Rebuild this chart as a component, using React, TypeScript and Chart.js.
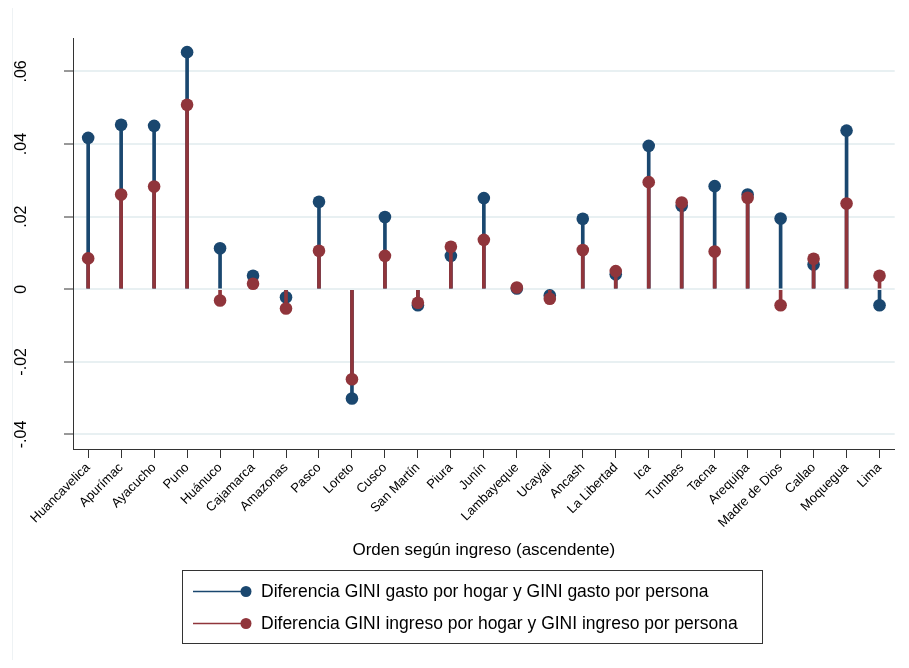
import React, { useEffect, useRef } from "react";
import { Chart, registerables } from "chart.js";

Chart.register(...registerables);

const categories = [
  "Huancavelica", "Apurímac", "Ayacucho", "Puno", "Huánuco", "Cajamarca", "Amazonas",
  "Pasco", "Loreto", "Cusco", "San Martín", "Piura", "Junín", "Lambayeque", "Ucayali",
  "Ancash", "La Libertad", "Ica", "Tumbes", "Tacna", "Arequipa", "Madre de Dios",
  "Callao", "Moquegua", "Lima",
];

const gastoDiff = [
  0.0417, 0.0453, 0.0450, 0.0653, 0.0113, 0.0037, -0.0022, 0.0241, -0.0301, 0.0199,
  -0.0044, 0.0092, 0.0251, 0.0002, -0.0017, 0.0194, 0.0041, 0.0395, 0.0230, 0.0284,
  0.0261, 0.0195, 0.0068, 0.0437, -0.0044,
];

const ingresoDiff = [
  0.0085, 0.0261, 0.0283, 0.0508, -0.0031, 0.0015, -0.0053, 0.0106, -0.0248, 0.0092,
  -0.0037, 0.0117, 0.0136, 0.0005, -0.0026, 0.0108, 0.0050, 0.0295, 0.0239, 0.0104,
  0.0252, -0.0044, 0.0084, 0.0236, 0.0037,
];

const yTickValues = [-0.04, -0.02, 0, 0.02, 0.04, 0.06];
const yTickLabels = ["-.04", "-.02", "0", ".02", ".04", ".06"];

const seriesNames = [
  "Diferencia GINI gasto por hogar y GINI gasto por persona",
  "Diferencia GINI ingreso por hogar y GINI ingreso por persona",
];
const xTitle = "Orden según ingreso (ascendente)";

const BLUE = "#1a476f";
const RED = "#90353b";
const GRID = "#e8f0f2";
const AXIS = "#333333";
const FONT = "'Liberation Sans', Arial, sans-serif";

export default function App() {
  const ref = useRef<HTMLCanvasElement | null>(null);

  useEffect(() => {
    if (!ref.current) return;
    const pts = (arr: number[]) => arr.map((v, i) => ({ x: i, y: v }));

    const overlay = {
      id: "overlay",
      afterDraw(chart: any) {
        const ctx = chart.ctx;
        const ys = chart.scales.y;
        ctx.save();
        ctx.strokeStyle = "#eef2f4";
        ctx.lineWidth = 1;
        ctx.beginPath();
        ctx.moveTo(4.5, 0);
        ctx.lineTo(4.5, chart.height);
        ctx.stroke();
        ctx.fillStyle = "#000";
        ctx.font = `16px ${FONT}`;
        ctx.textAlign = "center";
        ctx.textBaseline = "middle";
        yTickValues.forEach((v, i) => {
          const y = ys.getPixelForValue(v);
          ctx.save();
          ctx.translate(14, y);
          ctx.rotate(-Math.PI / 2);
          ctx.fillText(yTickLabels[i], 0, 0);
          ctx.restore();
        });
        const bx = 174.5, by = 562.5, bw = 580, bh = 73;
        ctx.strokeStyle = AXIS;
        ctx.lineWidth = 1;
        ctx.strokeRect(bx, by, bw, bh);
        const colors = [BLUE, RED];
        const rowsY = [583.5, 615.5];
        ctx.font = `17.5px ${FONT}`;
        ctx.textAlign = "left";
        colors.forEach((c, i) => {
          const yy = rowsY[i];
          ctx.strokeStyle = c;
          ctx.lineWidth = 1.5;
          ctx.beginPath();
          ctx.moveTo(185, yy);
          ctx.lineTo(238, yy);
          ctx.stroke();
          ctx.fillStyle = c;
          ctx.beginPath();
          ctx.arc(238, yy, 5.5, 0, Math.PI * 2);
          ctx.fill();
          ctx.fillStyle = "#000";
          ctx.fillText(seriesNames[i], 253, yy + 1);
        });
        ctx.restore();
      },
    };

    const chart = new Chart(ref.current, {
      type: "bar",
      data: {
        datasets: [
          {
            type: "bar",
            label: seriesNames[0],
            data: pts(gastoDiff),
            backgroundColor: BLUE,
            barThickness: 3,
            grouped: false,
            order: 4,
          } as any,
          {
            type: "line",
            label: seriesNames[0],
            data: pts(gastoDiff),
            showLine: false,
            pointRadius: 6.3,
            pointBorderWidth: 0,
            pointBackgroundColor: BLUE,
            borderColor: BLUE,
            order: 3,
          } as any,
          {
            type: "bar",
            label: seriesNames[1],
            data: pts(ingresoDiff),
            backgroundColor: RED,
            barThickness: 3,
            grouped: false,
            order: 2,
          } as any,
          {
            type: "line",
            label: seriesNames[1],
            data: pts(ingresoDiff),
            showLine: false,
            pointRadius: 6.3,
            pointBorderWidth: 0,
            pointBackgroundColor: RED,
            borderColor: RED,
            order: 1,
          } as any,
        ],
      },
      options: {
        animation: false,
        responsive: true,
        maintainAspectRatio: false,
        events: [],
        layout: { padding: { top: 30, right: 3, bottom: 99, left: 0 } },
        plugins: { legend: { display: false }, tooltip: { enabled: false } },
        scales: {
          x: {
            type: "linear",
            offset: false,
            min: -0.46,
            max: 24.46,
            afterBuildTicks: (s: any) => {
              s.ticks = categories.map((_, i) => ({ value: i }));
            },
            afterFit: (s: any) => {
              s.height = 112;
            },
            ticks: {
              autoSkip: false,
              maxRotation: 45,
              minRotation: 45,
              color: "#000",
              font: { family: FONT, size: 13 },
              padding: 2,
              callback: (_v: any, i: number) => categories[i] ?? "",
            },
            grid: {
              display: true,
              offset: false,
              drawOnChartArea: false,
              drawTicks: true,
              tickLength: 9,
              tickColor: AXIS,
              tickWidth: 1,
            },
            border: { display: true, color: AXIS, width: 1 },
            title: {
              display: true,
              text: xTitle,
              color: "#000",
              font: { family: FONT, size: 17 },
              padding: { top: 0, bottom: 0 },
            },
          } as any,
          y: {
            type: "linear",
            min: -0.044,
            max: 0.0692,
            afterBuildTicks: (s: any) => {
              s.ticks = yTickValues.map((v) => ({ value: v }));
            },
            afterFit: (s: any) => {
              s.width = 65;
            },
            ticks: { display: false },
            grid: {
              color: GRID,
              lineWidth: 2,
              tickColor: AXIS,
              tickWidth: 1,
              tickLength: 9,
              drawTicks: true,
            },
            border: { display: true, color: AXIS, width: 1 },
          } as any,
        },
      },
      plugins: [overlay],
    });
    return () => chart.destroy();
  }, []);

  return (
    <div style={{ width: 893, height: 652, position: "relative" }}>
      <canvas ref={ref} />
    </div>
  );
}
